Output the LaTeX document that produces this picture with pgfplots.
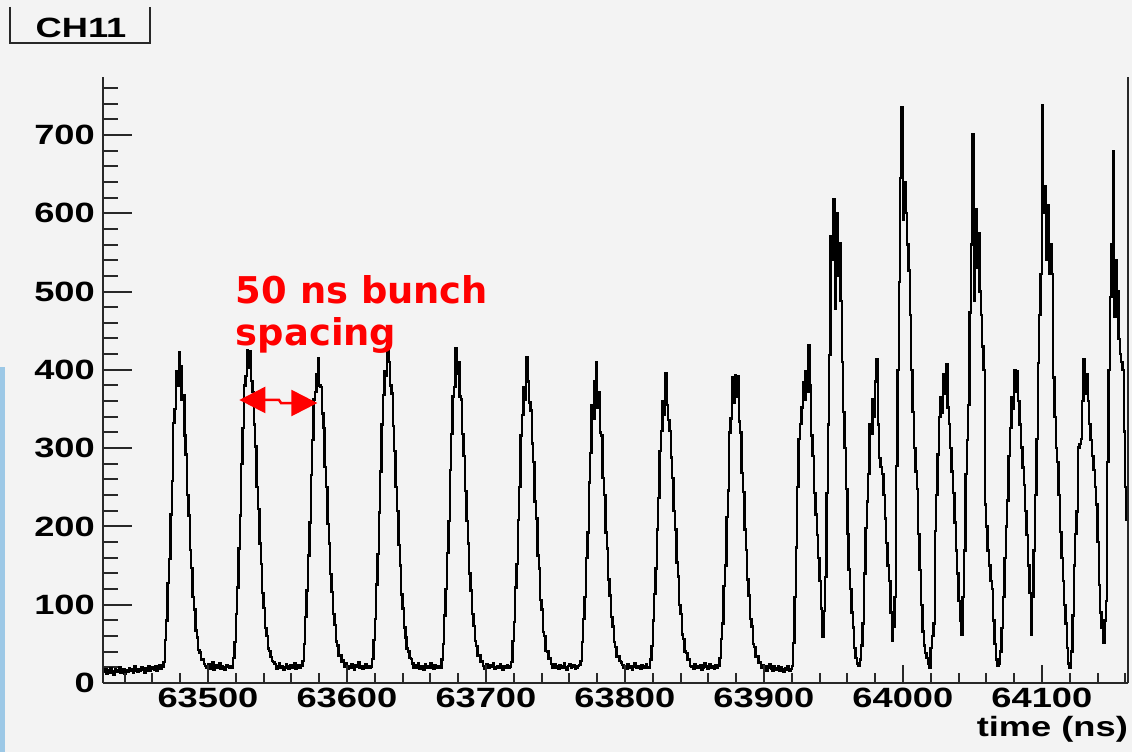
\documentclass[border=0pt]{standalone}
\usepackage{pgfplots}
\pgfplotsset{compat=1.18}
\usepackage{fontspec}
\usetikzlibrary{arrows.meta}
\setmainfont{Liberation Sans}
\newfontfamily\rootfont{Liberation Sans}[FakeStretch=1.3]
\newfontfamily\djv{DejaVu Sans}
\newcommand\tickfont{\rootfont\bfseries\fontsize{28}{32}\selectfont}
\definecolor{bg}{RGB}{243,243,243}
\definecolor{strip}{RGB}{156,200,230}
\definecolor{frame}{RGB}{40,40,40}
\begin{document}
\begin{tikzpicture}[x=1bp,y=1bp]
\fill[bg] (-103,-69) rectangle (1029,683);
\fill[strip] (-103,-69) rectangle (-98,316);
% main axis: y ticks and the histogram
\begin{axis}[
    scale only axis, width=1025bp, height=606bp,
    at={(0,0)}, anchor=south west,
    xmin=63424.5, xmax=64162, ymin=0, ymax=774,
    scaled ticks=false,
    axis x line*=bottom, axis y line*=left,
    axis line style={-, line width=2bp, frame},
    tick align=inside, ytick pos=left,
    xtick=\empty,
    ytick={0,100,200,300,400,500,600,700},
    yticklabels={0,100,200,300,400,500,600,700},
    minor ytick={20,40,...,760},
    major tick length=29bp, minor tick length=15bp,
    tick style={line width=2bp, frame},
    yticklabel style={font=\tickfont, anchor=east, inner sep=0pt, xshift=-8bp},
]
\addplot[const plot, black, line width=2.4bp, mark=none] coordinates {
(63425,14)(63426,18)(63427,12)(63428,16)(63429,13)(63430,19)(63431,15)(63432,11)(63433,17)(63434,14)
(63435,16)(63436,20)(63437,13)(63438,15)(63439,18)(63440,12)(63441,16)(63442,14)(63443,19)(63444,15)
(63445,17)(63446,13)(63447,21)(63448,16)(63449,14)(63450,18)(63451,15)(63452,20)(63453,17)(63454,13)
(63455,19)(63456,16)(63457,22)(63458,15)(63459,18)(63460,20)(63461,17)(63462,21)(63463,16)(63464,19)
(63465,23)(63466,18)
(63467,21)(63468,27)(63469,55)(63470,80)(63471,128)(63472,158)(63473,215)(63474,258)(63475,332)(63476,350)
(63477,398)(63478,380)(63479,423)(63480,405)(63481,362)(63482,368)(63483,316)(63484,292)(63485,240)(63486,214)
(63487,170)(63488,147)(63489,110)(63490,94)(63491,67)(63492,58)(63493,42)(63494,39)(63495,30)(63496,31)(63497,24)
(63498,22)(63499,19)(63500,24)(63501,18)(63502,21)(63503,26)(63504,17)(63505,20)(63506,23)(63507,19)
(63508,25)(63509,18)(63510,22)(63511,20)(63512,17)(63513,23)(63514,21)(63515,19)(63516,22)
(63517,20)(63518,32)(63519,52)(63520,88)(63521,122)(63522,172)(63523,214)(63524,280)(63525,326)(63526,380)
(63527,392)(63528,425)(63529,402)(63530,424)(63531,386)(63532,372)(63533,330)(63534,302)(63535,250)(63536,222)
(63537,178)(63538,152)(63539,115)(63540,96)(63541,70)(63542,60)(63543,44)(63544,41)(63545,33)(63546,28)(63547,27)
(63548,24)(63549,18)(63550,21)(63551,25)(63552,19)(63553,22)(63554,17)(63555,20)(63556,24)(63557,21)
(63558,18)(63559,23)(63560,19)(63561,22)(63562,25)(63563,18)(63564,20)(63565,23)(63566,19)
(63567,22)(63568,28)(63569,50)(63570,84)(63571,118)(63572,163)(63573,205)(63574,266)(63575,310)(63576,362)
(63577,372)(63578,395)(63579,415)(63580,380)(63581,378)(63582,344)(63583,326)(63584,276)(63585,250)(63586,203)
(63587,178)(63588,139)(63589,116)(63590,88)(63591,74)(63592,53)(63593,48)(63594,35)(63595,36)(63596,27)(63597,29)
(63598,21)(63599,25)(63600,18)(63601,22)(63602,19)(63603,24)(63604,20)(63605,17)(63606,23)(63607,21)
(63608,26)(63609,19)(63610,22)(63611,18)(63612,21)(63613,24)(63614,19)(63615,22)(63616,20)
(63617,21)(63618,31)(63619,55)(63620,82)(63621,126)(63622,165)(63623,218)(63624,270)(63625,330)(63626,368)
(63627,398)(63628,392)(63629,455)(63630,410)(63631,380)(63632,370)(63633,328)(63634,296)(63635,250)(63636,220)
(63637,176)(63638,150)(63639,113)(63640,95)(63641,71)(63642,58)(63643,44)(63644,40)(63645,32)(63646,31)(63647,25)
(63648,19)(63649,23)(63650,20)(63651,25)(63652,18)(63653,22)(63654,21)(63655,17)(63656,24)(63657,20)
(63658,22)(63659,19)(63660,25)(63661,21)(63662,18)(63663,23)(63664,20)(63665,22)(63666,19)
(63667,20)(63668,30)(63669,50)(63670,86)(63671,120)(63672,166)(63673,207)(63674,272)(63675,318)(63676,366)
(63677,378)(63678,428)(63679,395)(63680,410)(63681,366)(63682,362)(63683,318)(63684,290)(63685,245)(63686,207)
(63687,178)(63688,140)(63689,118)(63690,88)(63691,73)(63692,54)(63693,47)(63694,35)(63695,35)(63696,27)(63697,28)
(63698,22)(63699,18)(63700,24)(63701,20)(63702,19)(63703,23)(63704,21)(63705,25)(63706,18)(63707,20)
(63708,22)(63709,19)(63710,24)(63711,21)(63712,17)(63713,22)(63714,20)(63715,23)(63716,19)
(63717,21)(63718,27)(63719,54)(63720,78)(63721,122)(63722,152)(63723,208)(63724,250)(63725,316)(63726,342)
(63727,378)(63728,362)(63729,416)(63730,385)(63731,358)(63732,348)(63733,306)(63734,282)(63735,232)(63736,210)
(63737,163)(63738,146)(63739,106)(63740,94)(63741,65)(63742,60)(63743,41)(63744,40)(63745,31)(63746,32)(63747,24)
(63748,20)(63749,24)(63750,19)(63751,22)(63752,18)(63753,23)(63754,21)(63755,19)(63756,25)(63757,20)
(63758,17)(63759,22)(63760,24)(63761,19)(63762,21)(63763,23)(63764,18)(63765,20)(63766,22)
(63767,23)(63768,28)(63769,52)(63770,82)(63771,110)(63772,160)(63773,192)(63774,256)(63775,294)(63776,355)
(63777,338)(63778,385)(63779,410)(63780,352)(63781,372)(63782,320)(63783,316)(63784,262)(63785,240)(63786,192)
(63787,172)(63788,132)(63789,112)(63790,84)(63791,72)(63792,52)(63793,46)(63794,34)(63795,34)(63796,28)(63797,26)
(63798,23)(63799,19)(63800,21)(63801,18)(63802,24)(63803,20)(63804,22)(63805,17)(63806,21)(63807,25)
(63808,19)(63809,22)(63810,20)(63811,18)(63812,23)(63813,21)(63814,19)(63815,24)(63816,20)
(63817,20)(63818,30)(63819,47)(63820,80)(63821,114)(63822,146)(63823,196)(63824,236)(63825,296)(63826,322)
(63827,360)(63828,342)(63829,396)(63830,355)(63831,336)(63832,322)(63833,288)(63834,262)(63835,220)(63836,196)
(63837,154)(63838,136)(63839,100)(63840,88)(63841,62)(63842,56)(63843,40)(63844,38)(63845,30)(63846,31)(63847,22)
(63848,21)(63849,18)(63850,24)(63851,20)(63852,22)(63853,19)(63854,23)(63855,17)(63856,20)(63857,25)
(63858,21)(63859,18)(63860,22)(63861,24)(63862,19)(63863,21)(63864,18)(63865,23)(63866,20)
(63867,22)(63868,32)(63869,56)(63870,76)(63871,124)(63872,150)(63873,212)(63874,246)(63875,320)(63876,338)
(63877,390)(63878,358)(63879,393)(63880,366)(63881,392)(63882,334)(63883,320)(63884,268)(63885,244)(63886,196)
(63887,170)(63888,132)(63889,112)(63890,82)(63891,72)(63892,50)(63893,46)(63894,33)(63895,34)(63896,26)(63897,27)
(63898,19)(63899,23)(63900,18)(63901,21)(63902,16)(63903,20)(63904,24)(63905,18)(63906,15)(63907,21)
(63908,19)(63909,17)(63910,22)(63911,16)(63912,20)(63913,18)(63914,14)(63915,19)(63916,17)(63917,21)
(63918,15)(63919,18)
(63920,22)(63921,51)(63922,110)(63923,173)(63924,250)(63925,312)(63926,331)(63927,352)(63928,384)(63929,362)
(63930,398)(63931,372)(63932,431)(63933,380)(63934,316)(63935,290)(63936,243)(63937,215)(63938,189)(63939,160)
(63940,130)(63941,95)(63942,59)(63943,92)(63944,135)(63945,243)(63946,330)(63947,419)(63948,571)(63949,540)
(63950,618)(63951,478)(63952,600)(63953,520)(63954,562)(63955,488)(63956,410)(63957,346)(63958,300)(63959,248)
(63960,190)(63961,145)(63962,120)(63963,90)(63964,71)(63965,45)(63966,32)(63967,25)(63968,22)(63969,30)
(63970,48)(63971,76)(63972,140)(63973,198)(63974,232)(63975,267)(63976,331)(63977,318)(63978,362)(63979,340)
(63980,385)(63981,414)(63982,330)(63983,287)(63984,276)(63985,267)(63986,240)(63987,210)(63988,179)(63989,150)
(63990,130)(63991,90)(63992,54)(63993,72)(63994,110)(63995,277)(63996,400)(63997,512)(63998,645)(63999,736)
(64000,591)(64001,640)(64002,600)(64003,560)(64004,527)(64005,470)(64006,400)(64007,346)(64008,300)(64009,270)
(64010,248)(64011,190)(64012,144)(64013,100)(64014,66)(64015,48)(64016,38)(64017,32)(64018,24)(64019,20)
(64020,45)(64021,60)(64022,76)(64023,194)(64024,240)(64025,292)(64026,340)(64027,365)(64028,345)(64029,395)
(64030,370)(64031,407)(64032,352)(64033,331)(64034,300)(64035,270)(64036,243)(64037,205)(64038,169)(64039,140)
(64040,105)(64041,80)(64042,61)(64043,110)(64044,169)(64045,267)(64046,310)(64047,355)(64048,473)(64049,560)
(64050,701)(64051,488)(64052,605)(64053,530)(64054,575)(64055,500)(64056,470)(64057,430)(64058,400)(64059,228)
(64060,200)(64061,169)(64062,150)(64063,130)(64064,120)(64065,80)(64066,50)(64067,30)(64068,22)(64069,25)
(64070,40)(64071,70)(64072,110)(64073,160)(64074,200)(64075,233)(64076,290)(64077,326)(64078,365)(64079,350)
(64080,400)(64081,372)(64082,398)(64083,360)(64084,330)(64085,301)(64086,275)(64087,253)(64088,220)(64089,189)
(64090,150)(64091,115)(64092,61)(64093,110)(64094,169)(64095,240)(64096,312)(64097,409)(64098,470)(64099,522)
(64100,738)(64101,600)(64102,635)(64103,540)(64104,610)(64105,522)(64106,560)(64107,522)(64108,390)(64109,340)
(64110,300)(64111,282)(64112,240)(64113,193)(64114,160)(64115,130)(64116,100)(64117,76)(64118,45)(64119,25)
(64120,19)(64121,40)(64122,86)(64123,150)(64124,190)(64125,219)(64126,301)(64127,305)(64128,312)(64129,360)
(64130,414)(64131,370)(64132,395)(64133,360)(64134,331)(64135,310)(64136,290)(64137,272)(64138,250)(64139,228)
(64140,180)(64141,125)(64142,90)(64143,70)(64144,51)(64145,80)(64146,105)(64147,282)(64148,400)(64149,493)
(64150,561)(64151,679)(64152,468)(64153,540)(64154,500)(64155,439)(64156,420)(64157,410)(64158,400)(64159,321)
(64160,250)(64161,208)(64162,208)
};
% annotation
\node[anchor=base west, inner sep=0pt, text=red, font=\djv\bfseries\fontsize{37}{43}\selectfont]
    at (axis cs:63520,485) {50 ns bunch};
\node[anchor=base west, inner sep=0pt, text=red, font=\djv\bfseries\fontsize{37}{43}\selectfont]
    at (axis cs:63520,430.5) {spacing};
\draw[red, line width=2.5bp, {Triangle[length=26bp,width=26bp]}-{Triangle[length=26bp,width=26bp]}]
    (axis cs:63522.6,361.5) -- (axis cs:63551.1,361.5) -- (axis cs:63552.6,357.6) -- (axis cs:63578.7,357.6);
\end{axis}
% second axis: x ticks with their own lengths
\begin{axis}[
    scale only axis, width=1025bp, height=606bp,
    at={(0,0)}, anchor=south west,
    xmin=63424.5, xmax=64162, ymin=0, ymax=774,
    scaled ticks=false,
    axis x line*=bottom, hide y axis,
    axis line style={-, line width=2bp, frame},
    tick align=inside, xtick pos=left,
    xtick={63500,63600,63700,63800,63900,64000,64100},
    xticklabels={63500,63600,63700,63800,63900,64000,64100},
    minor xtick={63440,63460,...,64160},
    major tick length=18bp, minor tick length=10bp,
    tick style={line width=2bp, frame},
    xticklabel style={font=\tickfont, anchor=north, inner sep=0pt, yshift=-5bp},
    xlabel={time (ns)},
    xlabel style={at={(rel axis cs:1,0)}, anchor=base east, inner sep=0pt, yshift=-54bp, font=\tickfont},
]
\end{axis}
\draw[line width=2bp, frame] (1025,0) -- (1025,606);
\draw[line width=2bp, frame] (-93,676) -- (-93,640) -- (47,640) -- (47,676);
\node[anchor=base, inner sep=0pt, font=\tickfont] at (-22,645) {CH11};
\pgfresetboundingbox
\path (-103,-69) rectangle (1029,683);
\end{tikzpicture}
\end{document}
